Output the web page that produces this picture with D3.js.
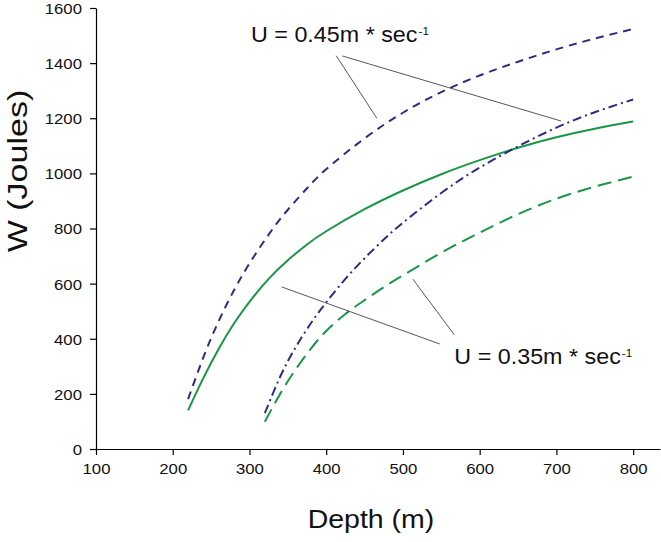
<!DOCTYPE html>
<head>
<meta charset="utf-8">
<style>
  body { margin: 0; background: #fff; }
  svg { display: block; font-family: "Liberation Sans", Arial, sans-serif; }
</style>
</head>
<body>
<svg width="661" height="542"></svg>
<script src="https://d3js.org/d3.v7.min.js"></script>
<script>

// curve data (depth in m, W in Joules)
var depthA = [220, 240, 260, 280, 300, 325, 350, 375, 400, 450, 500, 550, 600, 650, 700, 750, 800];
var wA     = [181, 333, 465, 577, 673, 778, 868, 946, 1015, 1127, 1220, 1295, 1355, 1405, 1450, 1489, 1524];

var depthB = [220, 240, 260, 280, 300, 325, 350, 375, 400, 450, 500, 550, 600, 650, 700, 750, 800];
var wB     = [140, 258, 364, 456, 534, 617, 685, 742, 790, 870, 938, 997, 1048, 1093, 1131, 1162, 1188];

var depthC = [320, 340, 360, 380, 400, 425, 450, 475, 500, 550, 600, 650, 700, 750, 800];
var wC     = [130, 262, 368, 456, 532, 617, 692, 760, 821, 929, 1021, 1098, 1166, 1222, 1268];

var depthD = [320, 340, 360, 380, 400, 425, 450, 475, 500, 550, 600, 650, 700, 750, 800];
var wD     = [99, 200, 288, 364, 428, 490, 540, 587, 630, 712, 785, 852, 908, 952, 988];

var xTicks = [100, 200, 300, 400, 500, 600, 700, 800];
var yTicks = [0, 200, 400, 600, 800, 1000, 1200, 1400, 1600];

// annotation text + leader lines, in data units
var labelHigh = { text: "U = 0.45m * sec", sup: "-1", x: 302, y: 1476 };
var labelLow  = { text: "U = 0.35m * sec", sup: "-1", x: 567, y: 308 };
var leadersHigh = [[[413, 1427], [466, 1200]], [[421, 1426], [706, 1190]]];
var leadersLow  = [[[342, 588], [548, 381]], [[513, 616], [567, 414]]];

var navy = "#2e2b85", green = "#1a9646";

var svg = d3.select("svg");

var x = d3.scaleLinear().domain([100, 835]).range([96, 660]);
var y = d3.scaleLinear().domain([0, 1600]).range([449, 8]);

var xAxis = svg.append("g")
    .attr("transform", "translate(0," + y(0) + ")")
    .call(d3.axisBottom(x).tickValues(xTicks).tickSize(6).tickSizeOuter(0).tickFormat(d3.format("d")));

var yAxis = svg.append("g")
    .attr("transform", "translate(" + x(100) + ",0)")
    .call(d3.axisLeft(y).tickValues(yTicks).tickSize(6).tickSizeOuter(0).tickFormat(d3.format("d")));

svg.selectAll(".domain, .tick line").attr("stroke", "#000").attr("stroke-width", 1.2);
svg.selectAll(".tick text")
    .attr("fill", "#111")
    .style("font-family", "Liberation Sans, Arial, sans-serif")
    .style("font-size", "15.5px");
xAxis.selectAll(".tick text").attr("y", 10).attr("dy", "0.95em").attr("transform", "scale(1.08,1)");
yAxis.selectAll(".tick text").attr("x", -13).attr("dy", "0.35em").attr("transform", "scale(1.08,1)");

// axis titles
svg.append("g")
    .attr("transform", "translate(371,528)")
  .append("text")
    .attr("text-anchor", "middle")
    .attr("transform", "scale(1.14,1)")
    .style("font-size", "25px")
    .attr("fill", "#111")
    .text("Depth (m)");

svg.append("g")
    .attr("transform", "translate(27,171) rotate(-90)")
  .append("text")
    .attr("text-anchor", "middle")
    .attr("transform", "scale(1.26,1)")
    .style("font-size", "27px")
    .attr("fill", "#111")
    .text("W (Joules)");

var line = d3.line()
    .x(function(d) { return x(d[0]); })
    .y(function(d) { return y(d[1]); })
    .curve(d3.curveNatural);

var series = [
  { xs: depthA, ys: wA, color: navy,  dash: "8,6" },
  { xs: depthB, ys: wB, color: green, dash: null },
  { xs: depthC, ys: wC, color: navy,  dash: "9,4,2,4" },
  { xs: depthD, ys: wD, color: green, dash: "14,7" }
];

series.forEach(function(s) {
  svg.append("path")
      .datum(d3.zip(s.xs, s.ys))
      .attr("fill", "none")
      .attr("stroke", s.color)
      .attr("stroke-width", 2)
      .attr("stroke-dasharray", s.dash)
      .attr("d", line);
});

// leader lines
svg.selectAll(".leader")
    .data(leadersHigh.concat(leadersLow))
    .enter().append("line")
      .attr("class", "leader")
      .attr("x1", function(d) { return x(d[0][0]); })
      .attr("y1", function(d) { return y(d[0][1]); })
      .attr("x2", function(d) { return x(d[1][0]); })
      .attr("y2", function(d) { return y(d[1][1]); })
      .attr("stroke", "#444")
      .attr("stroke-width", 0.9);

[labelHigh, labelLow].forEach(function(l) {
  var t = svg.append("g")
      .attr("transform", "translate(" + x(l.x) + "," + y(l.y) + ")")
    .append("text")
      .attr("transform", "scale(1.06,1)")
      .attr("fill", "#111")
      .style("font-size", "22px");
  t.append("tspan").text(l.text);
  t.append("tspan")
      .attr("dy", -7)
      .attr("dx", 1)
      .style("font-size", "11px")
      .text(l.sup);
});

</script>
</body>
